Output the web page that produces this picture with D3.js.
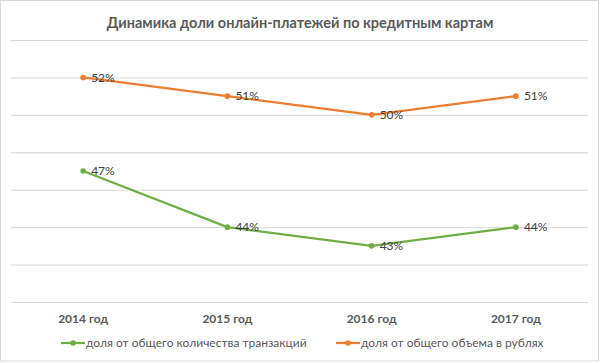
<!DOCTYPE html>
<html>
<head>
<meta charset="utf-8">
<script src="https://cdn.jsdelivr.net/npm/d3@7"></script>
<style>
  body { margin: 0; background: #fff; }
  text { font-family: Lato, "Noto Sans", sans-serif; }
</style>
</head>
<body>
<div id="chart"></div>
<script>
// data
const years = ["2014 год", "2015 год", "2016 год", "2017 год"];
const transactions = [47, 44, 43, 44];
const volume = [52, 51, 50, 51];
const seriesNames = ["доля от общего количества транзакций", "доля от общего объема в рублях"];
const yTicks = [40, 42, 44, 46, 48, 50, 52, 54];

const W = 600, H = 363;
const margin = {top: 40, right: 12, bottom: 61, left: 11};

const svg = d3.select("#chart")
    .append("svg")
    .attr("width", W)
    .attr("height", H);

// outer frame
svg.append("rect")
    .attr("x", 0.5).attr("y", 0.5)
    .attr("width", W - 2).attr("height", H - 2.5)
    .attr("fill", "#fff")
    .attr("stroke", "#d9d9d9");

const x = d3.scaleBand()
    .domain(years)
    .range([margin.left, W - margin.right]);

const y = d3.scaleLinear()
    .domain([40, 54])
    .range([H - margin.bottom, margin.top]);

// gridlines
svg.append("g")
    .attr("transform", `translate(${margin.left}, 0)`)
    .call(d3.axisLeft(y).tickValues(yTicks).tickSize(-(W - margin.left - margin.right)).tickFormat(""))
    .call(g => g.select(".domain").remove())
    .call(g => g.selectAll("line").attr("stroke", "#d9d9d9").attr("stroke-width", 1));

// x axis labels
svg.append("g")
    .attr("transform", `translate(0, ${H - margin.bottom})`)
    .call(d3.axisBottom(x).tickSize(0).tickPadding(12))
    .call(g => g.select(".domain").remove())
    .call(g => g.selectAll("text")
        .attr("fill", "#595959")
        .attr("font-size", "12px")
        .attr("font-weight", "bold")
        .style("font-family", "Lato, sans-serif"));

// title
svg.append("text")
    .attr("x", W / 2)
    .attr("y", 28)
    .attr("text-anchor", "middle")
    .attr("fill", "#595959")
    .attr("font-size", "14.5px")
    .attr("font-weight", "bold")
    .text("Динамика доли онлайн-платежей по кредитным картам");

const colors = ["#70ad47", "#ed7d31"];
const series = [transactions, volume];

const line = d3.line()
    .x((d, i) => x(years[i]) + x.bandwidth() / 2)
    .y(d => y(d));

series.forEach((vals, k) => {
    svg.append("path")
        .datum(vals)
        .attr("fill", "none")
        .attr("stroke", colors[k])
        .attr("stroke-width", 2.25)
        .attr("stroke-linejoin", "round")
        .attr("d", line);

    svg.append("g")
        .selectAll("circle")
        .data(vals)
        .join("circle")
        .attr("cx", (d, i) => x(years[i]) + x.bandwidth() / 2)
        .attr("cy", d => y(d))
        .attr("r", 2.8)
        .attr("fill", colors[k]);

    svg.append("g")
        .selectAll("text")
        .data(vals)
        .join("text")
        .attr("x", (d, i) => x(years[i]) + x.bandwidth() / 2 + 8)
        .attr("y", d => y(d))
        .attr("dy", "0.35em")
        .attr("fill", "#404040")
        .attr("font-size", "12px")
        .text(d => d + "%");
});

// legend
const legendX = [61, 336];
const legendY = 343;
seriesNames.forEach((name, k) => {
    const g = svg.append("g").attr("transform", `translate(${legendX[k]}, ${legendY})`);
    g.append("line")
        .attr("x1", 0).attr("x2", 24)
        .attr("stroke", colors[k])
        .attr("stroke-width", 2.25);
    g.append("circle")
        .attr("cx", 12).attr("r", 2.8)
        .attr("fill", colors[k]);
    g.append("text")
        .attr("x", 25)
        .attr("dy", "0.35em")
        .attr("fill", "#595959")
        .attr("font-size", "12px")
        .text(name);
});
</script>
</body>
</html>
